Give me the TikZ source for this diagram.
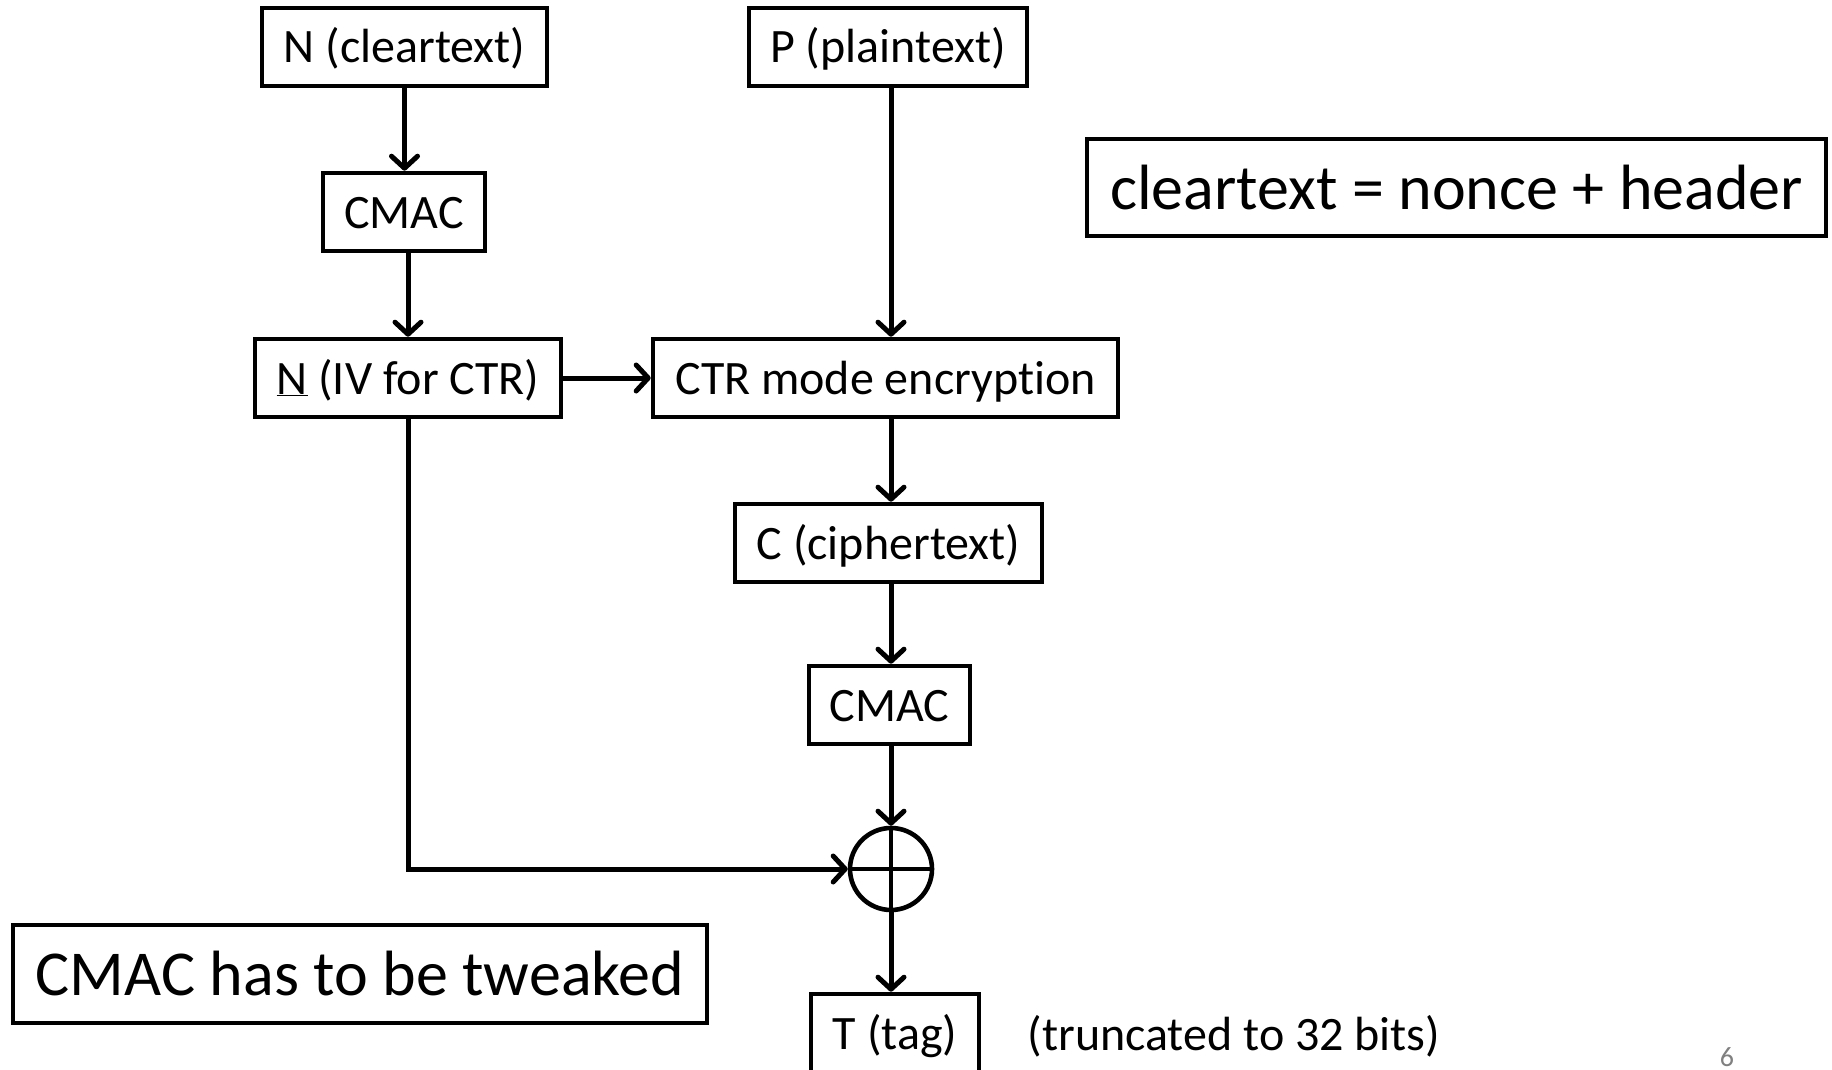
\documentclass[tikz,border=0pt]{standalone}
\usepackage{fontspec}
\setmainfont{Carlito}[Ligatures=NoCommon]
\usetikzlibrary{arrows.meta}
\tikzset{
  boxline/.style={draw, line width=4.6pt, inner sep=0pt, align=center},
  blk/.style={boxline, font=\fontsize{48}{56}\selectfont, text height=39pt, text depth=7pt},
  bigblk/.style={boxline, font=\fontsize{64}{74}\selectfont},
  flow/.style={line width=5pt, -{Straight Barb[length=12pt, width=26pt, line cap=round, line join=round]}},
  plain/.style={line width=4.6pt},
}
\begin{document}
\begin{tikzpicture}[x=1pt, y=-1pt]
\useasboundingbox (0,0) rectangle (1832,1070);

% left column
\node[blk, minimum width=285pt, minimum height=78pt] (ncl) at (404.5,47) {N (cleartext)};
\node[blk, minimum width=162pt, minimum height=78pt] (cmaca) at (404,212) {CMAC};
\node[blk, minimum width=306pt, minimum height=78pt] (niv) at (408,378) {\underline{N} (IV for CTR)};

% right column
\node[blk, minimum width=278pt, minimum height=78pt] (pl) at (888,47) {P (plaintext)};
\node[blk, minimum width=465pt, minimum height=78pt] (ctr) at (885.5,378) {CTR mode encryption};
\node[blk, minimum width=307pt, minimum height=78pt] (ct) at (888.5,543) {C (ciphertext)};
\node[blk, minimum width=161pt, minimum height=78pt] (cmacb) at (889.5,705) {CMAC};
\node[draw, circle, line width=4.6pt, minimum size=82pt, inner sep=0pt] (xor) at (891,869) {};
\draw[plain] (xor.north) -- (xor.south) (xor.west) -- (xor.east);
\node[blk, minimum width=168pt, minimum height=78pt] (tag) at (895,1033) {T (tag)};
\node[font=\fontsize{48}{56}\selectfont, inner sep=0pt] (trunc) at (1234,1036) {(truncated to 32 bits)};

% notes
\node[bigblk, minimum width=739pt, minimum height=97pt] (note) at (1456.5,187.5) {cleartext = nonce + header};
\node[bigblk, minimum width=694pt, minimum height=98pt] (tweak) at (360,974) {CMAC has to be tweaked};
\node[font=\fontsize{28}{32}\selectfont, text=black!50, inner sep=0pt] (pg) at (1727,1057) {6};

% connectors
\draw[flow] (ncl.south) -- (ncl.south |- cmaca.north);
\draw[flow] (cmaca.south -| niv) -- (niv.north);
\draw[flow] (niv.east) -- (ctr.west);
\draw[flow] (pl.south -| xor) -- (ctr.north -| xor);
\draw[flow] (ctr.south -| xor) -- (ct.north -| xor);
\draw[flow] (ct.south -| xor) -- (cmacb.north -| xor);
\draw[flow] (cmacb.south -| xor) -- (xor.north);
\draw[flow] (niv.south) |- (xor.west);
\draw[flow] (xor.south) -- (tag.north -| xor);
\end{tikzpicture}
\end{document}
